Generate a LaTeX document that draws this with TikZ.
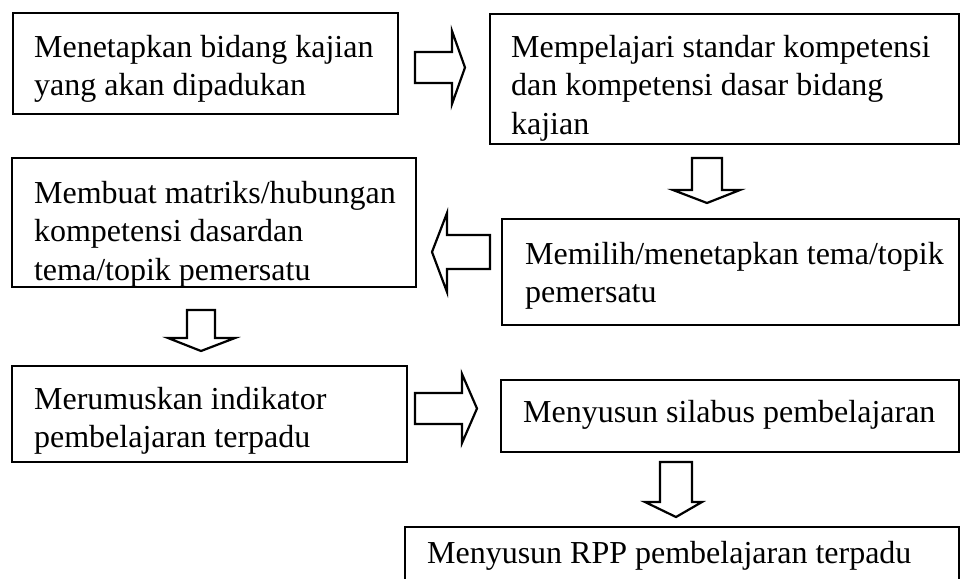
\documentclass[tikz,border=0pt]{standalone}
\usepackage{fontspec}
\setmainfont{Liberation Serif}

\begin{document}
\begin{tikzpicture}[x=0.5pt, y=-0.5pt, line width=1.1pt,
  box/.style={draw, anchor=north west, outer sep=0pt, inner sep=0pt},
  steptext/.style={anchor=north west, align=left, inner sep=0pt,
    font=\fontsize{16}{19.2}\selectfont},
  blockarrow/.style={draw, line join=miter}]
  \useasboundingbox (0,0) rectangle (960,579);
  \clip (0,0) rectangle (960,579);

  % Frames of the steps
  \node[box, minimum width=192.5pt, minimum height=50.5pt] (bidang) at (13,13) {};
  \node[box, minimum width=234.5pt, minimum height=65pt] (standar) at (490,14) {};
  \node[box, minimum width=202pt, minimum height=64.5pt] (matriks) at (12,158) {};
  \node[box, minimum width=228.5pt, minimum height=53pt] (tema) at (502,219) {};
  \node[box, minimum width=197.5pt, minimum height=48pt] (indikator) at (12,366) {};
  \node[box, minimum width=229pt, minimum height=36pt] (silabus) at (501,380) {};
  \node[box, minimum width=277pt, minimum height=40pt] (rpp) at (405,527) {};

  % Texts of the steps
  \node[steptext] (bidang-t) at ([shift={(20,21)}]bidang.north west)
    {Menetapkan bidang kajian\\yang akan dipadukan};
  \node[steptext] (standar-t) at ([shift={(20,20)}]standar.north west)
    {Mempelajari standar kompetensi\\dan kompetensi dasar bidang\\kajian};
  \node[steptext] (matriks-t) at ([shift={(21,22)}]matriks.north west)
    {Membuat matriks/hubungan\\kompetensi dasardan\\tema/topik pemersatu};
  \node[steptext] (tema-t) at ([shift={(22,22)}]tema.north west)
    {Memilih/menetapkan tema/topik\\pemersatu};
  \node[steptext] (indikator-t) at ([shift={(21,20)}]indikator.north west)
    {Merumuskan indikator\\pembelajaran terpadu};
  \node[steptext] (silabus-t) at ([shift={(21,19)}]silabus.north west)
    {Menyusun silabus pembelajaran};
  \node[steptext] (rpp-t) at ([shift={(21,13)}]rpp.north west)
    {Menyusun RPP pembelajaran terpadu};

  % Block arrows
  \draw[blockarrow] (415,52) -- (452,52) -- (452,31) -- (465,67.5)
    -- (452,104) -- (452,83) -- (415,83) -- cycle;
  \draw[blockarrow] (692,158) -- (722,158) -- (722,190) -- (740,190)
    -- (707,203) -- (673,190) -- (692,190) -- cycle;
  \draw[blockarrow] (490,235) -- (447,235) -- (447,213) -- (432,252)
    -- (447,292) -- (447,269) -- (490,269) -- cycle;
  \draw[blockarrow] (187,310) -- (215,310) -- (215,338) -- (235,338)
    -- (201,351) -- (168,338) -- (187,338) -- cycle;
  \draw[blockarrow] (415,393) -- (462,393) -- (462,374) -- (477,408.5)
    -- (462,443) -- (462,424) -- (415,424) -- cycle;
  \draw[blockarrow] (660,462) -- (692,462) -- (692,502) -- (702,502)
    -- (676,517) -- (645,502) -- (660,502) -- cycle;
\end{tikzpicture}
\end{document}
